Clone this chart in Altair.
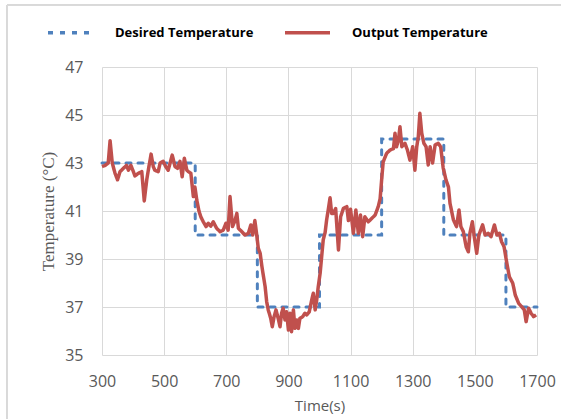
import altair as alt
import pandas as pd

# Desired (set-point) temperature: step changes
desired_time = [300, 600, 800, 1000, 1200, 1400, 1600, 1700]
desired_temp = [43, 40, 37, 40, 44, 40, 37, 37]

# Output temperature
output_time = [300, 310, 320, 326, 333, 342, 350, 358, 369, 379, 385, 393, 401, 406, 417, 428, 436, 444, 451, 458,
               465, 470, 481, 487, 497, 505, 513, 526, 535, 543, 551, 558, 565, 573, 578, 586, 594, 599, 605, 612,
               618, 626, 635, 642, 650, 658, 669, 680, 690, 699, 706, 712, 720, 728, 734, 739, 750, 760, 771, 779,
               785, 792, 798, 803, 809, 814, 819, 825, 830, 835, 843, 848, 854, 860, 867, 873, 878, 883, 889, 894,
               900, 905, 910, 916, 921, 927, 932, 937, 946, 953, 959, 967, 975, 980, 986, 991, 996, 1002, 1007, 1012,
               1018, 1023, 1028, 1034, 1039, 1044, 1052, 1061, 1068, 1077, 1088, 1093, 1100, 1109, 1117, 1125, 1132,
               1139, 1146, 1157, 1168, 1179, 1189, 1195, 1200, 1205, 1216, 1227, 1238, 1243, 1248, 1254, 1259, 1265,
               1275, 1283, 1291, 1300, 1307, 1313, 1318, 1323, 1329, 1336, 1343, 1350, 1356, 1364, 1372, 1382, 1390,
               1398, 1407, 1415, 1420, 1431, 1441, 1449, 1455, 1463, 1472, 1479, 1484, 1492, 1498, 1506, 1513, 1525,
               1533, 1543, 1552, 1563, 1571, 1579, 1586, 1594, 1603, 1611, 1622, 1630, 1641, 1651, 1659, 1665, 1673,
               1681, 1689, 1697]
output_temp = [42.85, 42.9, 43.0, 43.93, 43.0, 42.57, 42.3, 42.64, 42.78, 42.9, 42.7, 42.9, 42.64, 42.46, 42.57,
               42.64, 41.42, 42.3, 42.85, 43.37, 42.85, 42.7, 42.64, 43.0, 43.07, 42.85, 42.7, 43.33, 42.85, 42.78,
               43.07, 42.43, 43.2, 42.7, 42.64, 42.57, 41.6, 42.0, 41.46, 41.0, 40.76, 40.55, 40.35, 40.49, 40.37,
               40.55, 40.28, 40.14, 40.2, 40.49, 40.2, 41.6, 40.35, 40.6, 40.9, 40.28, 40.14, 40.0, 40.07, 40.42,
               40.0, 40.6, 40.0, 39.45, 39.24, 38.75, 38.33, 37.85, 37.22, 36.88, 36.53, 36.18, 36.6, 36.88, 36.53,
               36.18, 36.74, 36.95, 36.46, 36.8, 36.04, 36.74, 35.97, 36.88, 36.11, 36.46, 36.11, 36.53, 36.6, 36.74,
               36.67, 36.8, 37.3, 37.57, 36.88, 37.29, 37.85, 38.4, 39.1, 39.8, 40.1, 40.63, 41.04, 41.55, 40.9, 40.9,
               41.1, 39.38, 40.76, 41.11, 41.18, 40.6, 41.07, 40.07, 41.04, 40.07, 40.83, 39.93, 40.76, 40.55, 40.69,
               40.83, 41.18, 41.5, 42.3, 43.05, 43.4, 43.54, 43.6, 44.24, 43.68, 43.96, 44.51, 43.68, 43.82, 43.54,
               43.12, 43.68, 42.7, 43.68, 44.1, 45.07, 44.24, 43.82, 43.68, 42.92, 43.68, 43.0, 43.75, 43.82, 43.68,
               42.8, 42.3, 42.0, 41.32, 40.63, 40.35, 41.04, 40.35, 40.14, 39.51, 39.3, 40.07, 40.55, 39.93, 39.24,
               40.0, 40.42, 40.0, 40.07, 39.93, 40.42, 40.0, 40.07, 39.72, 39.51, 38.82, 38.26, 37.99, 37.5, 37.15,
               37.01, 36.88, 36.39, 36.95, 36.74, 36.6, 36.67]

series_names = ["Desired Temperature", "Output Temperature"]
series_colors = ["#4F81BD", "#C0504D"]
x_ticks = [300, 500, 700, 900, 1100, 1300, 1500, 1700]
y_ticks = [35, 37, 39, 41, 43, 45, 47]

desired_df = pd.DataFrame({"time": desired_time, "temp": desired_temp, "series": series_names[0]})
output_df = pd.DataFrame({"time": output_time, "temp": output_temp, "series": series_names[1]})

legend = alt.Legend(
    title=None, orient="none", direction="horizontal", legendX=-56, legendY=-59,
    symbolType="stroke", symbolSize=2025, symbolStrokeWidth=3.5, labelFont="Open Sans",
    labelFontWeight="bold", labelFontSize=13, labelColor="#000000", labelOffset=20,
    columnPadding=24, labelLimit=300,
)

x_enc = alt.X("time:Q", scale=alt.Scale(domain=[300, 1700], nice=False),
              axis=alt.Axis(values=x_ticks, title="Time(s)", format="d"))
y_enc = alt.Y("temp:Q", scale=alt.Scale(domain=[35, 47], nice=False, zero=False),
              axis=alt.Axis(values=y_ticks, title="Temperature (°C)", format="d"))
color_enc = alt.Color("series:N", scale=alt.Scale(domain=series_names, range=series_colors), legend=legend)
dash_enc = alt.StrokeDash("series:N", scale=alt.Scale(domain=series_names, range=[[5, 7], [1, 0]]), legend=legend)

desired_line = alt.Chart(desired_df).mark_line(
    interpolate="step-after", strokeWidth=3, strokeCap="round"
).encode(x=x_enc, y=y_enc, color=color_enc, strokeDash=dash_enc)

output_line = alt.Chart(output_df).mark_line(
    strokeWidth=3.5, strokeJoin="round"
).encode(x=x_enc, y=y_enc, color=color_enc, strokeDash=dash_enc)

# light outer frame (left and top edges of the chart area)
frame_left = alt.Chart(desired_df).mark_rule(color="#D9D9D9", strokeWidth=1).encode(
    x=alt.value(-95), y=alt.value(-62), y2=alt.value(360))
frame_top = alt.Chart(desired_df).mark_rule(color="#D9D9D9", strokeWidth=1).encode(
    x=alt.value(-95), x2=alt.value(470), y=alt.value(-62))

chart = alt.layer(frame_left, frame_top, desired_line, output_line).properties(
    width=435, height=288,
    autosize=alt.AutoSizeParams(type="none"),
    padding={"left": 102, "top": 67, "right": 24, "bottom": 64},
    background="white",
).configure_view(stroke=None).configure_axis(
    grid=True, gridColor="#D9D9D9", gridWidth=1, domain=False, ticks=False,
    labelFont="Open Sans", labelFontSize=16, labelColor="#595959",
    titleColor="#595959", titleFontWeight="normal",
).configure_axisX(
    labelPadding=18, labelFlush=False, titleFont="Open Sans", titleFontSize=15, titlePadding=9,
).configure_axisY(
    labelPadding=19, titleFont="Liberation Serif", titleFontSize=17, titlePadding=7,
)

chart.save("out.html", embed_options={"renderer": "svg", "actions": False})
